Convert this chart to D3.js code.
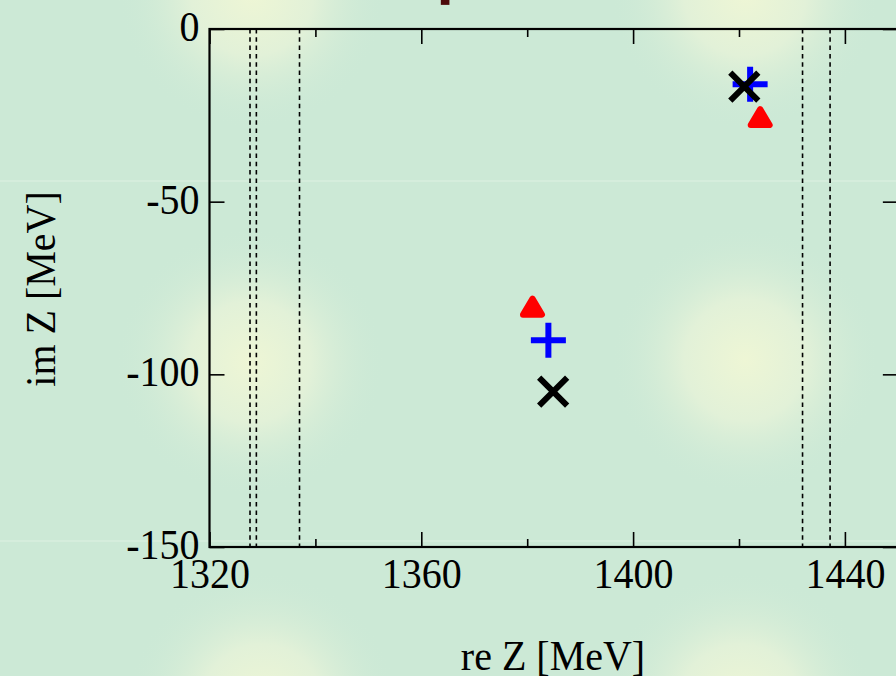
<!DOCTYPE html>
<html>
<head>
<meta charset="utf-8">
<script src="https://cdn.jsdelivr.net/npm/d3@7"></script>
<style>
html,body{margin:0;padding:0;background:#cce9d6;overflow:hidden;}
svg{display:block;}
text{font-family:"Liberation Serif","Times New Roman",serif;fill:#000;}
</style>
</head>
<body>
<svg id="chart" width="896" height="676"></svg>
<script>
// ---- data ----
const xTicksMajor = [1320, 1360, 1400, 1440];
const xTicksMinor = [1340, 1380, 1420];
const yTicks = [0, -50, -100, -150];
const thresholds = [1327.65, 1328.85, 1337.0, 1432.0, 1437.2];
const redX = [1381.0, 1424.0];
const redY = [-80.4, -25.5];
const blueX = [1384.0, 1422.1];
const blueY = [-90.1, -16.0];
const blackX = [1384.9, 1421.0];
const blackY = [-105.0, -16.7];
const offX = [1364.5];
const offY = [8.0];
const xLabel = "re Z [MeV]";
const yLabel = "im Z [MeV]";

// ---- layout ----
const W = 896, H = 676;
const L = 209.5, T = 29, B = 547;
const pxPerUnit = 5.295;
const xDomain = [1320, 1450];
const R = L + (xDomain[1] - xDomain[0]) * pxPerUnit;
const SY = 1.07; // slight vertical stretch of glyphs as in the reference

const svg = d3.select("#chart");
const x = d3.scaleLinear().domain(xDomain).range([L, R]);
const y = d3.scaleLinear().domain([-150, 0]).range([B, T]);

// ---- background ----
const defs = svg.append("defs");
const g = defs.append("radialGradient").attr("id", "blob");
g.append("stop").attr("offset", "0%").attr("stop-color", "#eef6d5");
g.append("stop").attr("offset", "45%").attr("stop-color", "#e2f1d8");
g.append("stop").attr("offset", "100%").attr("stop-color", "#cce9d6").attr("stop-opacity", 0);
svg.append("rect").attr("width", W).attr("height", H).attr("fill", "#cce9d6");
const blobs = [[252, -5], [745, -5], [250, 362], [745, 360], [262, 705], [740, 705]];
svg.append("g").selectAll("circle").data(blobs).join("circle")
  .attr("cx", d => d[0]).attr("cy", d => d[1]).attr("r", 135)
  .attr("fill", "url(#blob)");
svg.append("g").selectAll("line").data([181, 541]).join("line")
  .attr("x1", 0).attr("x2", W).attr("y1", d => d).attr("y2", d => d)
  .attr("stroke", "#e4f3e6").attr("stroke-width", 1).attr("opacity", 0.8);

// ---- threshold lines ----
svg.append("g").selectAll("line").data(thresholds).join("line")
  .attr("x1", d => x(d)).attr("x2", d => x(d))
  .attr("y1", T).attr("y2", B)
  .attr("stroke", "#000").attr("stroke-width", 1.6)
  .attr("stroke-dasharray", "4.5,3.8");

// ---- axes ----
const fmt = d => String(d);
const gb = svg.append("g").attr("transform", `translate(0,${B})`)
  .call(d3.axisBottom(x).tickValues(xTicksMajor).tickSize(-15).tickSizeOuter(0).tickFormat(fmt));
const gbm = svg.append("g").attr("transform", `translate(0,${B})`)
  .call(d3.axisBottom(x).tickValues(xTicksMinor).tickSize(-8).tickSizeOuter(0).tickFormat(""));
const gt = svg.append("g").attr("transform", `translate(0,${T})`)
  .call(d3.axisTop(x).tickValues(xTicksMajor).tickSize(-15).tickSizeOuter(0).tickFormat(""));
const gtm = svg.append("g").attr("transform", `translate(0,${T})`)
  .call(d3.axisTop(x).tickValues(xTicksMinor).tickSize(-8).tickSizeOuter(0).tickFormat(""));
const gl = svg.append("g").attr("transform", `translate(${L},0)`)
  .call(d3.axisLeft(y).tickValues(yTicks).tickSize(-15).tickSizeOuter(0).tickPadding(10).tickFormat(fmt));
const gr = svg.append("g").attr("transform", `translate(${R},0)`)
  .call(d3.axisRight(y).tickValues(yTicks).tickSize(-15).tickSizeOuter(0).tickFormat(""));

[gb, gbm, gt, gtm, gl, gr].forEach(a => {
  a.select(".domain").remove();
  a.selectAll(".tick line").attr("stroke", "#000").attr("stroke-width", 1.6);
});
gb.selectAll(".tick text")
  .attr("y", 41 / SY).attr("dy", null).attr("transform", `scale(1,${SY})`)
  .style("font-size", "40px").style("font-family", "'Liberation Serif',serif").attr("fill", "#000");
gl.selectAll(".tick text")
  .attr("dy", null)
  .attr("transform", function() {
    const ty = d3.select(this.parentNode).attr("transform");
    return `scale(1,${SY})`;
  })
  .each(function(d) {
    d3.select(this).attr("y", 11.5 / SY);
  })
  .style("font-size", "40px").style("font-family", "'Liberation Serif',serif").attr("fill", "#000");

// frame
svg.append("rect").attr("x", L).attr("y", T).attr("width", R - L).attr("height", B - T)
  .attr("fill", "none").attr("stroke", "#000").attr("stroke-width", 2.2);

// ---- axis titles ----
svg.append("text").attr("transform", `translate(553,670) scale(1,${SY})`).attr("text-anchor", "middle")
  .style("font-size", "40px").text(xLabel);
svg.append("text").attr("transform", `translate(55,289) rotate(-90) scale(1,${SY})`).attr("text-anchor", "middle")
  .style("font-size", "40px").text(yLabel);

// ---- markers ----
const red = redX.map((v, i) => [v, redY[i]]);
const blue = blueX.map((v, i) => [v, blueY[i]]);
const black = blackX.map((v, i) => [v, blackY[i]]);

// red rounded triangles
svg.append("g").selectAll("path").data(red).join("path")
  .attr("transform", d => `translate(${x(d[0])},${y(d[1])})`)
  .attr("d", "M0,-8 L9.5,8 L-9.5,8 Z")
  .attr("fill", "#ff0000").attr("stroke", "#ff0000")
  .attr("stroke-width", 6).attr("stroke-linejoin", "round");

// blue plus
svg.append("g").selectAll("path").data(blue).join("path")
  .attr("transform", d => `translate(${x(d[0])},${y(d[1])})`)
  .attr("d", "M-17.5,0 L17.5,0 M0,-17.5 L0,17.5")
  .attr("fill", "none").attr("stroke", "#0000ff").attr("stroke-width", 6);

// black cross
svg.append("g").selectAll("path").data(black).join("path")
  .attr("transform", d => `translate(${x(d[0])},${y(d[1])})`)
  .attr("d", "M-14,-14 L14,14 M-14,14 L14,-14")
  .attr("fill", "none").attr("stroke", "#000").attr("stroke-width", 6);

// off-scale dark red marker at top
svg.append("g").selectAll("rect").data(offX.map((v, i) => [v, offY[i]])).join("rect")
  .attr("x", d => x(d[0]) - 4.3).attr("y", d => y(d[1]) - 25).attr("width", 8.6).attr("height", 28.5)
  .attr("fill", "#4d0a0a");
</script>
</body>
</html>
